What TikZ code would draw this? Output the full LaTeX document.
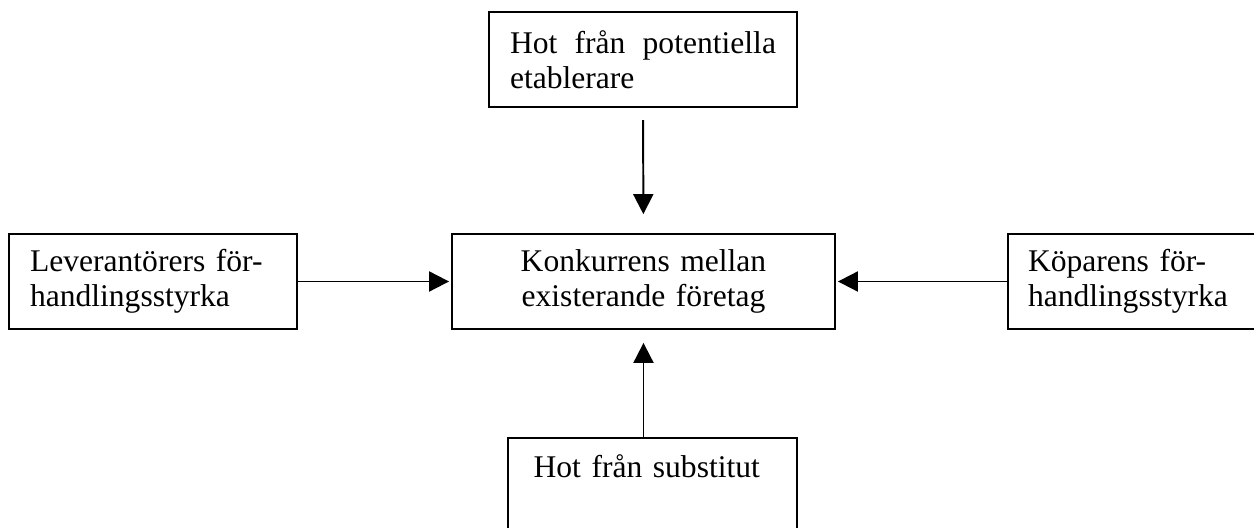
\documentclass[tikz,border=0pt]{standalone}
\usepackage{fontspec}
\setmainfont{Liberation Serif}
\usetikzlibrary{arrows.meta}

\begin{document}
\begin{tikzpicture}[x=0.38pt,y=-0.38pt,
    box/.style={draw,line width=0.7pt,inner ysep=0pt,font=\fontsize{12}{13.3}\selectfont},
    side/.style={box,minimum height=36.1pt,align=left},
    arr/.style={line width=0.75pt,-{Triangle[length=7.6pt,width=7.6pt]}}]
    \useasboundingbox (0,0) rectangle (1254,528);
    % krafterna
    \node[box,minimum width=117.04pt,minimum height=36.1pt,text width=101.08pt,inner xsep=7.98pt,align=justify] (hot) at (643,59.5)
        {\tolerance=9999\hyphenpenalty=10000 Hot från potentiella etablerare};
    \node[box,minimum width=145.54pt,minimum height=36.1pt,text width=125pt,inner xsep=10.27pt,align=center] (hub) at (643.5,281.5)
        {Konkurrens mellan\\existerande företag};
    \node[side,minimum width=109.44pt,text width=93.48pt,inner xsep=7.98pt] (lev) at (153,281.5)
        {Leverantörers för-\\handlingsstyrka};
    \node[side,minimum width=96.52pt,text width=81.32pt,inner xsep=7.6pt] (kop) at (1135,281.5)
        {Köparens för-\\handlingsstyrka};
    \node[box,anchor=north,minimum width=109.82pt,text width=90.32pt,inner xsep=9.75pt,align=left,text height=15.2pt,text depth=25.8pt] (sub) at (652.5,437)
        {Hot från substitut};
    % pilar
    \draw[arr,shorten <=4.6pt,shorten >=7.2pt] (hot) -- (hub);
    \draw[arr,shorten >=0.76pt] (lev) -- (hub);
    \draw[arr,shorten >=0.76pt] (kop) -- (hub);
    \draw[arr,shorten >=4.94pt] (sub.north -| hub.south) -- (hub.south);
\end{tikzpicture}
\end{document}
